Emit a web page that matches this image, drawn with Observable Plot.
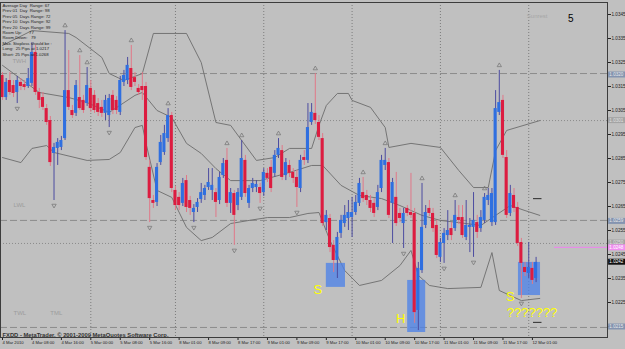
<!DOCTYPE html>
<html><head><meta charset="utf-8">
<script src="https://cdn.jsdelivr.net/npm/d3@7"></script>
<script src="https://cdn.jsdelivr.net/npm/@observablehq/plot@0.6"></script>
<style>
html,body{margin:0;padding:0;background:#c0c0c0;overflow:hidden}
#chart svg{display:block}
</style></head><body><div id="chart"></div>
<script>
// ---- H1 bars, 4 Mar 2010 00:00 .. 12 Mar 2010 ----
const opens = [1.03196,1.03104,1.03175,1.03154,1.03125,1.03167,1.03158,1.03150,1.03163,1.03292,
1.03125,1.03104,1.03058,1.03008,1.02871,1.02892,1.02896,1.02933,1.03133,1.03050,
1.03038,1.03104,1.03092,1.03079,1.03142,1.03113,1.03079,1.03063,1.03038,1.03029,
1.03113,1.03092,1.03042,1.03167,1.03175,1.03225,1.03187,1.03142,1.03150,1.03150,
1.02813,1.02675,1.02667,1.02833,1.02875,1.02933,1.03029,1.02717,1.02688,1.02663,
1.02758,1.02675,1.02625,1.02646,1.02679,1.02696,1.02729,1.02717,1.02708,1.02675,
1.02779,1.02842,1.02663,1.02704,1.02654,1.02688,1.02842,1.02663,1.02725,1.02729,
1.02729,1.02708,1.02788,1.02813,1.02788,1.02863,1.02883,1.02779,1.02821,1.02792,
1.02771,1.02725,1.02854,1.02842,1.03000,1.03038,1.03000,1.02933,1.02583,1.02600,
1.02488,1.02425,1.02538,1.02579,1.02600,1.02604,1.02625,1.02663,1.02708,1.02696,
1.02675,1.02663,1.02646,1.02725,1.02821,1.02833,1.02663,1.02688,1.02621,1.02579,
1.02642,1.02625,1.02621,1.02217,1.02383,1.02571,1.02642,1.02621,1.02571,1.02438,
1.02496,1.02529,1.02558,1.02558,1.02604,1.02604,1.02521,1.02563,1.02563,1.02583,
1.02558,1.02592,1.02675,1.02583,1.02583,1.03042,1.03092,1.02854,1.02621,1.02696,
1.02646,1.02500,1.02396,1.02371,1.02392,1.02350];
const highs = [1.03208,1.03183,1.03208,1.03175,1.03192,1.03183,1.03175,1.03225,1.03333,1.03321,
1.03142,1.03125,1.03075,1.03025,1.02913,1.02933,1.02942,1.03383,1.03300,1.03071,
1.03175,1.03279,1.03113,1.03229,1.03175,1.03133,1.03100,1.03092,1.03113,1.03117,
1.03133,1.03108,1.03192,1.03217,1.03271,1.03321,1.03208,1.03158,1.03208,1.03167,
1.02842,1.02696,1.02829,1.02946,1.02988,1.03058,1.03042,1.02733,1.02708,1.02767,
1.02779,1.02692,1.02658,1.02683,1.02746,1.02738,1.02808,1.02808,1.02725,1.02792,
1.02850,1.02892,1.02725,1.02717,1.02725,1.02925,1.02863,1.02738,1.02767,1.02758,
1.02746,1.02808,1.02808,1.02842,1.02883,1.02933,1.02904,1.02850,1.02842,1.02808,
1.02800,1.02863,1.02883,1.03079,1.03079,1.03204,1.03029,1.02954,1.02633,1.02617,
1.02508,1.02542,1.02613,1.02654,1.02675,1.02688,1.02696,1.02767,1.02771,1.02717,
1.02696,1.02683,1.02738,1.02863,1.02892,1.02850,1.02767,1.02792,1.02642,1.02642,
1.02654,1.02788,1.02642,1.02417,1.02746,1.02654,1.02675,1.02642,1.02592,1.02517,
1.02558,1.02633,1.02583,1.02675,1.02654,1.02654,1.02675,1.02600,1.02708,1.02613,
1.02633,1.02704,1.02725,1.02725,1.03133,1.03217,1.03113,1.02883,1.02738,1.02725,
1.02667,1.02517,1.02417,1.02500,1.02417,1.02438];
const lows = [1.03092,1.03092,1.03113,1.03104,1.03079,1.03133,1.03133,1.03142,1.03150,1.03113,
1.03058,1.03050,1.02988,1.02817,1.02675,1.02821,1.02883,1.02925,1.03050,1.03017,
1.03025,1.03050,1.03038,1.03067,1.03042,1.03038,1.03025,1.03021,1.03008,1.02979,
1.03033,1.03033,1.03029,1.03150,1.03158,1.03133,1.03150,1.03113,1.03092,1.02842,
1.02583,1.02642,1.02650,1.02821,1.02863,1.02917,1.02708,1.02633,1.02633,1.02650,
1.02625,1.02613,1.02583,1.02625,1.02663,1.02675,1.02717,1.02675,1.02604,1.02658,
1.02767,1.02646,1.02621,1.02488,1.02633,1.02675,1.02688,1.02642,1.02708,1.02708,
1.02663,1.02692,1.02750,1.02708,1.02771,1.02850,1.02758,1.02758,1.02771,1.02746,
1.02646,1.02708,1.02821,1.02829,1.02988,1.02992,1.02925,1.02567,1.02550,1.02458,
1.02375,1.02350,1.02517,1.02563,1.02550,1.02521,1.02613,1.02650,1.02667,1.02654,
1.02625,1.02604,1.02633,1.02708,1.02800,1.02600,1.02496,1.02567,1.02583,1.02475,
1.02608,1.02600,1.02163,1.02133,1.02371,1.02558,1.02608,1.02542,1.02433,1.02417,
1.02413,1.02508,1.02508,1.02546,1.02575,1.02517,1.02508,1.02458,1.02438,1.02517,
1.02542,1.02579,1.02654,1.02567,1.02571,1.03029,1.02850,1.02600,1.02608,1.02625,
1.02483,1.02267,1.02358,1.02350,1.02325,1.02333];
const closes = [1.03104,1.03167,1.03125,1.03121,1.03175,1.03150,1.03146,1.03183,1.03292,1.03125,
1.03092,1.03063,1.03000,1.02833,1.02896,1.02917,1.02925,1.03133,1.03063,1.03029,
1.03154,1.03058,1.03050,1.03154,1.03058,1.03050,1.03042,1.03038,1.03092,1.03100,
1.03050,1.03050,1.03175,1.03196,1.03238,1.03146,1.03167,1.03125,1.03133,1.02854,
1.02683,1.02663,1.02813,1.02917,1.02954,1.03029,1.02725,1.02654,1.02654,1.02746,
1.02646,1.02642,1.02642,1.02667,1.02708,1.02725,1.02750,1.02738,1.02667,1.02771,
1.02829,1.02663,1.02708,1.02613,1.02708,1.02850,1.02704,1.02725,1.02746,1.02742,
1.02704,1.02792,1.02767,1.02725,1.02863,1.02892,1.02771,1.02833,1.02788,1.02767,
1.02729,1.02842,1.02842,1.02979,1.03042,1.03008,1.02938,1.02579,1.02613,1.02479,
1.02425,1.02521,1.02592,1.02613,1.02625,1.02625,1.02667,1.02746,1.02683,1.02675,
1.02642,1.02621,1.02708,1.02842,1.02842,1.02613,1.02750,1.02579,1.02600,1.02621,
1.02621,1.02613,1.02208,1.02392,1.02563,1.02625,1.02621,1.02558,1.02446,1.02500,
1.02538,1.02550,1.02529,1.02613,1.02592,1.02529,1.02571,1.02571,1.02592,1.02542,
1.02604,1.02688,1.02696,1.02704,1.03058,1.03083,1.02863,1.02613,1.02704,1.02642,
1.02496,1.02413,1.02375,1.02396,1.02342,1.02417];

// time axis: one label every 8 bars
const timeIdx = [0,8,16,24,32,40,48,56,64,72,80,88,96,104,112,120,128,136,144];
const timeLabels = ["4 Mar 2010","4 Mar 08:00","4 Mar 16:00","5 Mar 00:00","5 Mar 08:00","5 Mar 16:00",
"8 Mar 01:00","8 Mar 09:00","8 Mar 17:00","9 Mar 01:00","9 Mar 09:00","9 Mar 17:00",
"10 Mar 01:00","10 Mar 09:00","10 Mar 17:00","11 Mar 01:00","11 Mar 09:00","11 Mar 17:00","12 Mar 01:00"];
const daySeparators = [24,47,71,95,119,143];
const priceTicks = [1.0215,1.0225,1.0235,1.0245,1.0255,1.0265,1.0275,1.0285,1.0295,1.0305,1.0315,1.0325,1.0335,1.0345];

// Bollinger bands (read at sample bars)
const bbUpperIdx = [0,8,18,20,27,29,33,38,41,50,54,58,62,65,69,74,78,84,86,88,91,94,95,100,104,105,111,119,124,128,132,134,137,146];
const bbUpper = [1.03321,1.03383,1.03371,1.03354,1.03271,1.03204,1.03175,1.03204,1.03371,1.03371,1.03250,1.03000,1.02988,1.02925,1.02842,1.02854,1.02892,1.02892,1.02988,1.03071,1.03121,1.03121,1.03092,1.03063,1.02979,1.02896,1.02913,1.02896,1.02800,1.02729,1.02729,1.02883,1.02967,1.03008];
const bbMidIdx = [0,10,18,23,29,36,38,42,46,50,54,58,62,70,78,84,87,92,97,103,108,114,119,124,130,134,138,142,146];
const bbMid = [1.03238,1.03125,1.03104,1.03083,1.03042,1.03113,1.03125,1.03050,1.03021,1.02913,1.02871,1.02808,1.02758,1.02758,1.02792,1.02821,1.02821,1.02738,1.02696,1.02683,1.02654,1.02613,1.02592,1.02583,1.02571,1.02613,1.02654,1.02633,1.02613];
const bbLowerIdx = [0,5,8,12,14,23,29,32,36,38,39,42,46,50,54,57,62,67,72,78,83,86,89,93,97,103,108,111,113,116,121,130,133,135,141,146];
const bbLower = [1.02854,1.02833,1.02892,1.02904,1.02875,1.02842,1.02846,1.02875,1.02979,1.02988,1.02913,1.02717,1.02688,1.02563,1.02508,1.02521,1.02579,1.02592,1.02604,1.02604,1.02621,1.02625,1.02508,1.02383,1.02321,1.02342,1.02404,1.02467,1.02363,1.02321,1.02308,1.02313,1.02458,1.02300,1.02258,1.02267];

// fractals
const fractalUp = [17,21,23,35,45,61,65,75,85,98,104,114,123,131,135];
const fractalDown = [4,14,29,40,52,63,70,80,109,120,128,141];

// horizontal levels
const levelPrice = [1.03204,1.03008,1.02592,1.02496,1.02146];
const levelStyle = ["dash","dot","dash","dot","dash"];

// highlighted zones and labels
const boxStart = [88,110.1,140.2], boxEnd = [93.2,115,146.2];
const boxTop = [1.02413,1.02342,1.02417], boxBottom = [1.02313,1.02125,1.02279];
const markText = ["S","H","S","???????"];
const markIdx = [85.7,108.2,138,143.9];
const markPrice = [1.02304,1.02183,1.02273,1.02208];

const levelTags = ["TWH","LWL","TWL","TML"];
const levelTagIdx = [2.7,3,3,13];
const levelTagPrice = [1.03254,1.02654,1.02204,1.02204];

const infoLines = ["Average Day  Range: 67","Prev 01  Day  Range: 98","Prev 05  Days Range: 72",
"Prev 10  Days Range: 92","Prev 20  Days Range: 99","Room Up:      77","Room Down:   79",
"Max. Stoploss should be :","Long:  25 Pips at 1.0217","Short: 25 Pips at 1.0268"];

const tagPrice = [1.0320,1.0301,1.0259,1.0250,1.0248,1.0242,1.0215];
const tagFill = ["#8494b0","#a4a4a4","#8494b0","#a4a4a4","#f08ef0","#101010","#8494b0"];
const tagText = ["#e8e8e8","#e0e0e0","#e8e8e8","#e0e0e0","#ffffff","#ffffff","#e8e8e8"];
const bidPrice = 1.0248;
const pivotDash = [1.02683,1.02167];

// ---------- build ----------
const bars = opens.map((o,i)=>({i,o,h:highs[i],l:lows[i],c:closes[i]}));
const band = (idx,val)=>idx.map((i,k)=>({i,v:val[k]}));
const xMin = -0.5435, xMax = 164.402;
const BULL="#2f6fe0", BEAR="#dc1c40", BULLW="#4c4ca0", BEARW="#e07888";
const font = "Liberation Sans, Arial, sans-serif";
const tagged = p => tagPrice.some(t=>Math.abs(t-p)<1e-6);

const chart = Plot.plot({
  width:625, height:349,
  marginTop:2, marginBottom:12, marginLeft:0, marginRight:18,
  x:{domain:[xMin,xMax], axis:null},
  y:{domain:[1.021042,1.035], axis:null},
  style:{background:"#c0c0c0", fontFamily:font},
  marks:[
    Plot.ruleX(daySeparators,{x:d=>d, stroke:"#7c7c7c", strokeDasharray:"1,2", strokeWidth:1}),
    Plot.ruleY(levelPrice.map((p,k)=>({p,s:levelStyle[k]})).filter(d=>d.s==="dash"),{y:"p", stroke:"#8c8c8c", strokeDasharray:"7,3"}),
    Plot.ruleY(levelPrice.map((p,k)=>({p,s:levelStyle[k]})).filter(d=>d.s==="dot"),{y:"p", stroke:"#8a8a8a", strokeDasharray:"1,2"}),
    Plot.ruleY([bidPrice],{y:d=>d, x1:150, x2:xMax, stroke:"#f080f0"}),
    Plot.line(band(bbUpperIdx,bbUpper),{x:"i",y:"v",stroke:"#6c6c6c",strokeWidth:0.9}),
    Plot.line(band(bbMidIdx,bbMid),{x:"i",y:"v",stroke:"#6c6c6c",strokeWidth:0.9}),
    Plot.line(band(bbLowerIdx,bbLower),{x:"i",y:"v",stroke:"#6c6c6c",strokeWidth:0.9}),
    Plot.rect(boxStart.map((s,k)=>({s,e:boxEnd[k],t:boxTop[k],b:boxBottom[k]})),{x1:"s",x2:"e",y1:"b",y2:"t",fill:"#4a80ea",fillOpacity:0.75}),
    Plot.ruleX(bars,{x:"i",y1:"l",y2:"h",stroke:d=>d.c>=d.o?BULLW:BEARW,strokeWidth:1}),
    Plot.rect(bars,{x1:d=>d.i-0.42,x2:d=>d.i+0.42,y1:"o",y2:"c",fill:d=>d.c>=d.o?BULL:BEAR}),
    Plot.dot(fractalUp.map(i=>({i,p:highs[i]})),{x:"i",y:"p",dy:-5,symbol:"triangle",r:1.6,stroke:"#7a7a7a",strokeWidth:0.8,fill:"none"}),
    Plot.dot(fractalDown.map(i=>({i,p:lows[i]})),{x:"i",y:"p",dy:5,symbol:"triangle",rotate:180,r:1.6,stroke:"#7a7a7a",strokeWidth:0.8,fill:"none"}),
    Plot.ruleY(pivotDash,{y:d=>d,x1:144.3,x2:146.6,stroke:"#404040",strokeWidth:1.2}),
    Plot.text(levelTags.map((t,k)=>({t,i:levelTagIdx[k],p:levelTagPrice[k]})),{x:"i",y:"p",text:"t",textAnchor:"start",fontSize:6,fill:"#9c9c9c"}),
    Plot.text(markText.map((t,k)=>({t,i:markIdx[k],p:markPrice[k]})),{x:"i",y:"p",text:"t",fontSize:13,fill:"#ffff00",fontFamily:font}),
    Plot.text([infoLines.join("\n")],{frameAnchor:"top-left",dx:2,dy:0.5,textAnchor:"start",lineAnchor:"top",lineHeight:1.26,fontSize:4.3,fill:"#1e1e1e"}),
    Plot.text(["FXDD - MetaTrader, \u00a9 2001-2009 MetaQuotes Software Corp."],{frameAnchor:"bottom-left",dx:2,dy:-1,textAnchor:"start",lineAnchor:"bottom",fontSize:5.8,fontWeight:"bold",fill:"#333"}),
    Plot.text(["5"],{frameAnchor:"top-right",dx:-34,dy:12,fontSize:10,fill:"#000"}),
    Plot.text(["Sunrest"],{frameAnchor:"top-right",dx:-60,dy:11,fontSize:6,fill:"#a6a6a6"}),
    Plot.axisY({anchor:"right",ticks:priceTicks,tickFormat:d=>tagged(d)?"":d.toFixed(4),tickSize:3,tickPadding:1,fontSize:4.6,stroke:"#222",fill:"#222"}),
    Plot.ruleY(tagPrice.map((p,k)=>({p,f:tagFill[k]})),{y:"p",x1:xMax+0.3,x2:xMax+4.9,stroke:"f",strokeWidth:6}),
    Plot.text(tagPrice.map((p,k)=>({p,c:tagText[k]})),{y:"p",x:xMax+0.5,text:d=>d.p.toFixed(4),textAnchor:"start",fontSize:4.6,fill:"c"}),
    Plot.axisX({anchor:"bottom",ticks:timeIdx,tickFormat:d=>timeLabels[timeIdx.indexOf(d)],tickSize:3,tickPadding:1,textAnchor:"start",fontSize:4.2,stroke:"#222",fill:"#222"}),
    Plot.frame({stroke:"#3c3c3c"})
  ]
});
document.getElementById("chart").appendChild(chart);
</script></body></html>
